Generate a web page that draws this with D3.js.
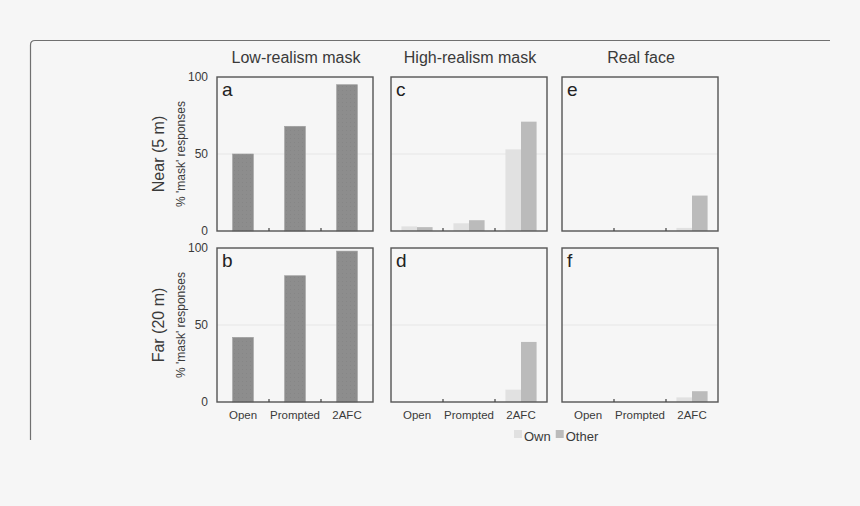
<!DOCTYPE html>
<html><head><meta charset="utf-8">
<script src="https://cdn.jsdelivr.net/npm/d3@7"></script>
<style>
html,body{margin:0;padding:0;background:#f6f6f6;}
svg{display:block;}
text{font-family:"Liberation Sans",Arial,sans-serif;fill:#3a3a3a;}
</style></head>
<body>
<svg id="chart" width="860" height="506"></svg>
<script>
const categories = ["Open", "Prompted", "2AFC"];
const columnTitles = ["Low-realism mask", "High-realism mask", "Real face"];
const rowTitles = ["Near (5 m)", "Far (20 m)"];
const panelLetters = [["a", "c", "e"], ["b", "d", "f"]];
const yTicks = [0, 50, 100];
const seriesNames = ["Own", "Other"];

const lowNear = [50, 68, 95];
const lowFar = [42, 82, 98];
const highNearOwn = [3, 5, 53];
const highNearOther = [2.5, 7, 71];
const highFarOwn = [0, 0, 8];
const highFarOther = [0, 0, 39];
const realNearOwn = [0, 0, 2];
const realNearOther = [0, 0, 23];
const realFarOwn = [0, 0, 3];
const realFarOther = [0, 0, 7];

const panels = [
  [{single: lowNear}, {own: highNearOwn, other: highNearOther}, {own: realNearOwn, other: realNearOther}],
  [{single: lowFar}, {own: highFarOwn, other: highFarOther}, {own: realFarOwn, other: realFarOther}]
];

const svg = d3.select("#chart");
const colX = [217, 391, 562];
const rowY = [77, 248];
const pw = 156, ph = 154;
const colors = {single: "#8d8d8d", Own: "#e1e1e1", Other: "#bbbbbb"};

const defs = svg.append("defs");
const pat = defs.append("pattern").attr("id", "dots").attr("width", 4).attr("height", 4).attr("patternUnits", "userSpaceOnUse");
pat.append("rect").attr("width", 4).attr("height", 4).attr("fill", colors.single);
pat.append("rect").attr("x", 1).attr("y", 1).attr("width", 1).attr("height", 1).attr("fill", "#868686");
defs.append("clipPath").attr("id", "clipAll").append("rect").attr("x", 0).attr("y", 0).attr("width", 860).attr("height", 441);

// outer frame
svg.append("path")
  .attr("d", "M30.5,440 L30.5,45 Q30.5,40.5 35,40.5 L830,40.5")
  .attr("fill", "none").attr("stroke", "#707070").attr("stroke-width", 1.2);

const y = d3.scaleLinear().domain([0, 100]).range([ph, 0]);
const x = d3.scaleBand().domain(categories).range([0, pw]).padding(0);
const xs = d3.scaleBand().domain(seriesNames).range([x.bandwidth() * 0.2, x.bandwidth() * 0.8]);

const root = svg.append("g").attr("clip-path", "url(#clipAll)");

columnTitles.forEach((t, i) => {
  root.append("text").attr("x", colX[i] + pw / 2 + 1).attr("y", 63)
    .attr("text-anchor", "middle").style("font-size", "16px").text(t);
});

panels.forEach((row, r) => {
  const cy = rowY[r] + ph / 2;
  root.append("text").attr("transform", `translate(164,${cy}) rotate(-90)`)
    .attr("text-anchor", "middle").style("font-size", "16px").text(rowTitles[r]);
  root.append("text").attr("transform", `translate(185,${cy}) rotate(-90)`)
    .attr("text-anchor", "middle").style("font-size", "12px").text("% 'mask' responses");

  row.forEach((p, c) => {
    const g = root.append("g").attr("transform", `translate(${colX[c]},${rowY[r]})`);
    g.append("line").attr("x1", 0).attr("x2", pw).attr("y1", y(50)).attr("y2", y(50))
      .attr("stroke", "#e6e6e6").attr("stroke-width", 1.2);
    if (p.single) {
      const bw = x.bandwidth() * 0.4;
      g.selectAll("rect.bar").data(categories).join("rect").attr("class", "bar")
        .attr("x", d => x(d) + (x.bandwidth() - bw) / 2)
        .attr("width", bw)
        .attr("y", (d, i) => y(p.single[i]))
        .attr("height", (d, i) => ph - y(p.single[i]))
        .attr("fill", "url(#dots)").attr("stroke", "#a0a0a0").attr("stroke-width", 0.6);
    } else {
      const data = [];
      categories.forEach((cat, i) => {
        data.push({cat, s: "Own", v: p.own[i]});
        data.push({cat, s: "Other", v: p.other[i]});
      });
      g.selectAll("rect.bar").data(data.filter(d => d.v > 0)).join("rect").attr("class", "bar")
        .attr("x", d => x(d.cat) + xs(d.s))
        .attr("width", xs.bandwidth())
        .attr("y", d => y(d.v))
        .attr("height", d => ph - y(d.v))
        .attr("fill", d => colors[d.s]);
    }
    g.append("rect").attr("x", 0).attr("y", 0).attr("width", pw).attr("height", ph)
      .attr("fill", "none").attr("stroke", "#555").attr("stroke-width", 1.4);
    [1, 2].forEach(k => {
      g.append("line").attr("x1", k * x.bandwidth()).attr("x2", k * x.bandwidth())
        .attr("y1", ph).attr("y2", ph - 3).attr("stroke", "#444").attr("stroke-width", 1.2);
    });
    g.append("text").attr("x", 5).attr("y", 19).style("font-size", "19px").style("fill", "#222").text(panelLetters[r][c]);
    if (c === 0) {
      const ya = g.append("g").call(d3.axisLeft(y).tickValues(yTicks).tickSize(0).tickPadding(9));
      ya.select(".domain").remove();
      ya.selectAll("text").style("font-size", "12px").style("fill", "#3a3a3a").attr("font-family", null);
    }
    if (r === 1) {
      const xa = g.append("g").attr("transform", `translate(0,${ph})`)
        .call(d3.axisBottom(x).tickSize(0).tickPadding(9));
      xa.select(".domain").remove();
      xa.selectAll("text").style("font-size", "11.5px").style("fill", "#3a3a3a").attr("font-family", null);
    }
  });
});

const lg = root.append("g").attr("transform", "translate(514,430)");
let lx = 0;
seriesNames.forEach(s => {
  lg.append("rect").attr("x", lx).attr("y", 0).attr("width", 8).attr("height", 8).attr("fill", colors[s]);
  const t = lg.append("text").attr("x", lx + 10).attr("y", 11).style("font-size", "13px").text(s);
  lx += 10 + t.node().getComputedTextLength() + 5;
});
</script>
</body></html>
